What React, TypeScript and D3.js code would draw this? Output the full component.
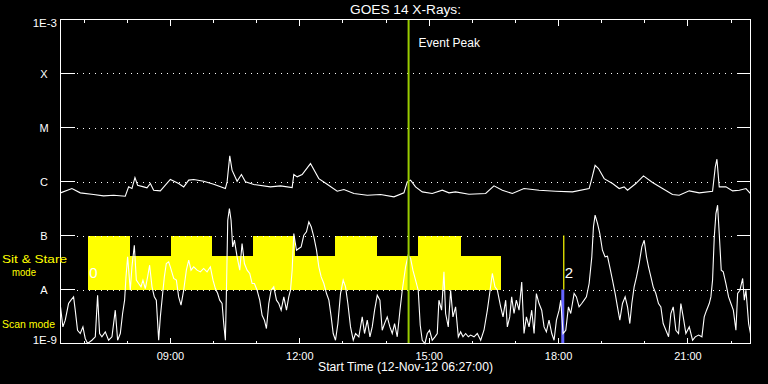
import React from "react";
import * as d3 from "d3";

// ---- data ----
const startTime = Date.UTC(2012, 10, 12, 6, 27, 0);
const durationMinutes = 960;

const longMinutes = [
  0, 15.9, 27.5, 46, 60, 74, 90.1, 94.8, 99.4, 103.6,
  107.3, 115.7, 120.3, 125, 129.6, 138.9, 152.8, 164.4, 171.4, 178.4,
  185.3, 199.2, 213.2, 229.4, 231.8, 235.5, 238.7, 245.7, 251.7, 257.3,
  268.9, 292.1, 306, 322.3, 324.6, 329.3, 336.2, 347.8, 359.4, 371,
  385, 394.3, 408.2, 426.8, 445.3, 463.9, 477.8,
  482.4, 487.1, 494, 503.3, 517.2, 531.2, 540.5, 549.7, 568.3, 591.5,
  603.1, 614.7, 628.7, 644.9, 665.8, 689, 712.3, 735.5, 739.2, 743.8,
  748.5, 756.4, 768, 777.3, 784.2, 788.9, 800.5, 811.1, 823.7, 837.6,
  851.5, 860.8, 874.8, 888.7, 907.2, 911, 913.3, 916.5, 925.8, 935.1,
  944.4, 953.7, 960,
];
const longFlux = [
  6.16e-7, 7.41e-7, 6.16e-7, 5.74e-7, 5.42e-7, 5.58e-7, 5.34e-7, 7.95e-7, 7.41e-7, 1.18e-6,
  8.54e-7, 7.95e-7, 7.62e-7, 9.17e-7, 6.9e-7, 6.71e-7, 1.09e-6, 9.17e-7, 7.95e-7, 1.06e-6,
  1.09e-6, 1.01e-6, 8.91e-7, 7.41e-7, 9.84e-7, 2.98e-6, 1.62e-6, 1.01e-6, 1.35e-6, 9.84e-7,
  8.79e-7, 7.95e-7, 8.3e-7, 7.73e-7, 1.35e-6, 1.22e-6, 1.35e-6, 2.15e-6, 1.13e-6, 8.91e-7,
  6.61e-7, 7.1e-7, 5.99e-7, 5.58e-7, 5.74e-7, 5.19e-7, 6.16e-7,
  9.84e-7, 1.06e-6, 7.95e-7, 6.43e-7, 5.99e-7, 6.9e-7, 6.16e-7, 6.43e-7, 5.82e-7, 5.99e-7,
  8.3e-7, 6.9e-7, 5.99e-7, 7.41e-7, 6.9e-7, 6.61e-7, 6.43e-7, 7.41e-7, 1.13e-6, 2.0e-6,
  1.74e-6, 1.13e-6, 9.17e-7, 7.41e-7, 7.95e-7, 6.9e-7, 9.17e-7, 1.27e-6, 9.57e-7, 7.41e-7,
  5.74e-7, 5.58e-7, 6.71e-7, 6.16e-7, 6.61e-7, 1.87e-6, 2.59e-6, 7.95e-7, 7.95e-7, 6.71e-7,
  6.9e-7, 7.41e-7, 5.99e-7,
];

const shortMinutes = [
  0, 3.3, 6.6, 11.2, 14.5, 18.2, 20.5, 23.7, 27.5, 31.2,
  34.4, 37.7, 43.7, 48.4, 51.6, 54.4, 57.6, 62.3, 66.9, 71.6,
  76.2, 79.5, 83.2, 86.4, 89.2, 91.1, 93.4, 97.1, 99.4, 102.7,
  105.5, 108.7, 112, 114.7, 118, 121.2, 124, 127.3, 130.5, 133.3,
  136.6, 138.9, 141.2, 144.5, 147.2, 150.5, 152.8, 157.5, 161.2, 164.4,
  167.7, 171.4, 175.1, 178.4, 181.6, 185.3, 190, 194.6, 199.2, 203.9,
  208.5, 212.2, 215.5, 218.7, 221.5, 224.8, 227.1, 229.4, 230.8, 232.7,
  235, 237.3, 239.6, 242, 245.7, 249.4, 252.6, 255.9, 259.6, 263.3,
  266.6, 269.8, 273.5, 277.2, 280.5, 283.7, 286.5, 289.8, 293, 296.7,
  300.5, 303.7, 307, 310.7, 314.4, 317.6, 320, 322.3, 324.6, 328.3,
  331.6, 334.8, 338.5, 342.2, 345.5, 348.8, 352.5, 356.2, 359.4, 362.7,
  366.4, 370.1, 373.4, 376.6, 379.4, 382.6, 385.9, 389.6, 393.3, 396.6,
  399.8, 403.5, 407.3, 410.5, 415.1, 419.8, 423, 426.8, 430.5, 433.7,
  437, 440.7, 444.4, 447.6, 450.9, 454.6, 458.3, 461.6, 464.8, 468.5,
  472.3, 475.5,
  480.1, 483.8, 487.1, 490.3, 494, 497.7, 500.5, 503.3, 507, 510.3,
  513.5, 517.2, 521, 524.2, 526.5, 530.2, 533.5, 535.8, 539.5, 542.8,
  546, 549.7, 553.5, 556.7, 560, 563.7, 567.4, 570.6, 575.3, 579.9,
  584.6, 589.2, 593.9, 597.1, 600.8, 604.5, 607.8, 612.4, 615.7, 619.4,
  621.7, 625, 627.7, 631, 634.2, 638, 641.7, 644.9, 648.2, 651.9,
  655.6, 658.9, 662.1, 665.8, 669.5, 672.8, 676, 679.7, 683.5, 686.7,
  690, 693.7, 696, 699.2, 703, 706.7, 709.9, 714.6, 717.8, 721.5,
  725.2, 728.5, 731.7, 735.5, 739.2, 741.5, 743.8, 747.1, 750.3, 754,
  757.7, 761, 764.2, 768, 771.7, 774.9, 778.2, 781.9, 785.6, 788.9,
  792.1, 794.9, 798.1, 801.4, 805.1, 808.8, 812.1, 815.3, 818.1, 821.4,
  824.6, 828.3, 832, 835.3, 838.5, 842.3, 846, 849.2, 852.5, 856.2,
  859.9, 863.1, 866.4, 870.1, 874.8, 879.4, 883.1, 887.8, 892.4, 895.6,
  898.9, 902.6, 904.9, 907.2, 909.6, 911.9, 914.2, 916.5, 919.3, 922.1,
  925.8, 929.5, 932.8, 936.1, 939.7, 942.1, 945.3, 949.1, 951.4, 953.7,
  957.4, 960,
];
const shortFlux = [
  4.77e-9, 2.03e-9, 2.7e-9, 5.5e-9, 6.34e-9, 7.3e-9, 4.14e-9, 1.76e-9, 1.53e-9, 2.03e-9,
  1.24e-9, 1.0e-9, 1.15e-9, 1.33e-9, 7.84e-9, 1.53e-9, 1.33e-9, 1.64e-9, 1.15e-9, 1.33e-9,
  4.14e-9, 1.15e-9, 1.53e-9, 3.59e-9, 6.34e-9, 1.71e-8, 4.02e-8, 9.7e-9, 2.63e-8, 6.61e-8,
  1.49e-8, 1.29e-8, 1.12e-8, 1.49e-8, 1.04e-8, 1.71e-8, 2.82e-8, 1.12e-8, 7.3e-9, 6.34e-9,
  1.15e-9, 3.11e-9, 6.34e-9, 1.71e-8, 3.03e-8, 3.25e-8, 2.63e-8, 1.6e-8, 1.49e-8, 7.3e-9,
  5.12e-9, 9.7e-9, 2.28e-8, 3.49e-8, 2.28e-8, 2.63e-8, 2.28e-8, 2.12e-8, 2.45e-8, 2.12e-8,
  2.63e-8, 1.49e-8, 1.04e-8, 8.42e-9, 6.34e-9, 5.5e-9, 2.34e-9, 1.15e-9, 8.42e-9, 1.92e-7,
  3.16e-7, 1.92e-7, 6.16e-8, 8.18e-8, 4.02e-8, 2.28e-8, 7.1e-8, 3.03e-8, 2.28e-8, 1.98e-8,
  1.29e-8, 1.29e-8, 9.7e-9, 6.34e-9, 3.34e-9, 2.7e-9, 1.89e-9, 5.5e-9, 9.7e-9, 1.12e-8,
  6.34e-9, 5.5e-9, 4.14e-9, 7.3e-9, 4.14e-9, 7.3e-9, 9.7e-9, 2.28e-8, 1.09e-7, 5.34e-8,
  5.74e-8, 6.16e-8, 1.01e-7, 1.17e-7, 1.79e-7, 1.45e-7, 9.43e-8, 5.34e-8, 2.63e-8, 1.71e-8,
  1.29e-8, 8.42e-9, 6.34e-9, 3.11e-9, 1.53e-9, 1.15e-9, 2.34e-9, 8.42e-9, 1.49e-8, 1.12e-8,
  5.5e-9, 2.03e-9, 1.15e-9, 1.53e-9, 1.33e-9, 3.11e-9, 1.53e-9, 2.7e-9, 1.33e-9, 2.03e-9,
  4.14e-9, 7.84e-9, 6.34e-9, 1.76e-9, 2.34e-9, 3.11e-9, 2.03e-9, 1.53e-9, 2.34e-9, 1.33e-9,
  4.14e-9, 9.7e-9,
  2.63e-8, 4.32e-8, 3.75e-8, 2.28e-8, 1.49e-8, 9.7e-9, 2.18e-9, 1.15e-9, 1.0e-9, 1.53e-9,
  1.76e-9, 1.15e-9, 1.33e-9, 1.53e-9, 6.34e-9, 4.14e-9, 2.12e-8, 3.59e-9, 2.03e-9, 9.7e-9,
  3.11e-9, 4.77e-9, 1.33e-9, 1.64e-9, 1.33e-9, 1.53e-9, 1.33e-9, 1.43e-9, 1.33e-9, 1.53e-9,
  1.15e-9, 1.76e-9, 4.14e-9, 8.42e-9, 1.98e-8, 1.12e-8, 9.7e-9, 4.77e-9, 3.11e-9, 6.34e-9,
  2.03e-9, 3.11e-9, 7.3e-9, 3.59e-9, 6.34e-9, 4.14e-9, 1.38e-8, 1.53e-9, 3.11e-9, 2.03e-9,
  4.14e-9, 1.53e-9, 8.42e-9, 5.5e-9, 4.14e-9, 2.03e-9, 1.64e-9, 2.7e-9, 1.53e-9, 1.15e-9,
  2.7e-9, 4.14e-9, 6.34e-9, 1.53e-9, 1.76e-9, 4.77e-9, 3.59e-9, 8.42e-9, 7.3e-9, 4.77e-9,
  5.5e-9, 6.34e-9, 7.3e-9, 1.29e-8, 4.02e-8, 1.45e-7, 2.38e-7, 1.67e-7, 1.09e-7, 5.34e-8,
  4.02e-8, 4.14e-8, 2.63e-8, 1.49e-8, 8.42e-9, 4.77e-9, 2.7e-9, 5.5e-9, 7.3e-9, 4.77e-9,
  2.34e-9, 5.5e-9, 1.12e-8, 1.71e-8, 3.03e-8, 6.16e-8, 8.18e-8, 4.02e-8, 2.63e-8, 1.71e-8,
  1.12e-8, 8.42e-9, 5.5e-9, 4.77e-9, 2.34e-9, 1.76e-9, 1.33e-9, 3.59e-9, 4.77e-9, 1.76e-9,
  1.53e-9, 5.5e-9, 3.11e-9, 1.53e-9, 2.03e-9, 1.15e-9, 1.33e-9, 1.43e-9, 1.33e-9, 3.11e-9,
  4.14e-9, 5.5e-9, 7.3e-9, 1.49e-8, 9.43e-8, 2.55e-7, 3.64e-7, 1.09e-7, 2.28e-8, 2.12e-8,
  1.29e-8, 7.3e-9, 5.5e-9, 4.14e-9, 1.76e-9, 8.42e-9, 9.7e-9, 1.6e-8, 6.34e-9, 9.7e-9,
  2.34e-9, 1.53e-9,
];

const levelValues = [1e-9, 1e-8, 1e-7, 1e-6, 1e-5, 1e-4, 1e-3];
const levelLabels = ["1E-9", "A", "B", "C", "M", "X", "1E-3"];

const sitStareEdges = [38.6, 96.4, 154.2, 211.3, 268, 325.9, 382.6, 440.7, 497.8, 556.7, 613.4];
const sitStareTops = [1e-7, 4.1e-8, 1e-7, 4.1e-8, 1e-7, 4.1e-8, 1e-7, 4.1e-8, 1e-7, 4.1e-8];
const sitStareFloor = 1e-8;

const eventPeakMinute = 484.3;
const markerLabels = ["0", "2"];
const markerMinutes = [38.6, 700.2];
const titleText = "GOES 14 X-Rays:";

// ---- layout ----
const W = 768, H = 384;
const left = 60.5, right = 750.5, top = 19.5, bottom = 343.5;
const FONT = "'Liberation Sans', Arial, sans-serif";
const YELLOW = "#ffff00";

export default function App() {
  const toDate = (m: number) => new Date(startTime + m * 60000);
  const x = d3.scaleUtc().domain([toDate(0), toDate(durationMinutes)]).range([left, right]);
  const y = d3.scaleLog().domain([1e-9, 1e-3]).range([bottom, top]).clamp(true);

  const longLine = d3.line<number>().x((_, i) => x(toDate(longMinutes[i]))).y((d) => y(d));
  const shortLine = d3.line<number>().x((_, i) => x(toDate(shortMinutes[i]))).y((d) => y(d));

  const hourTicks = x.ticks(d3.utcHour.every(1) as any);
  const fmt = d3.utcFormat("%H:%M");
  const startFmt = d3.utcFormat("%d-%b-%y %H:%M:%S");

  const blocks = sitStareTops.map((t, i) => ({
    x0: x(toDate(sitStareEdges[i])),
    x1: x(toDate(sitStareEdges[i + 1])),
    yTop: y(t),
  }));

  const evX = x(toDate(eventPeakMinute));
  const scanX = x(toDate(markerMinutes[1]));

  return (
    <svg width={W} height={H} style={{ position: "absolute", left: 0, top: 0, background: "#000" }}>
      <rect x={0} y={0} width={W} height={H} fill="#000" />
      {blocks.map((b, i) => (
        <rect key={i} x={b.x0} y={b.yTop} width={b.x1 - b.x0} height={y(sitStareFloor) - b.yTop} fill={YELLOW} shapeRendering="crispEdges" />
      ))}
      {levelValues.slice(1, -1).map((v, i) => (
        <line key={i} x1={77} x2={735} y1={Math.round(y(v)) + 0.5} y2={Math.round(y(v)) + 0.5} stroke="#fff" strokeWidth={1} strokeDasharray="1 5" shapeRendering="crispEdges" />
      ))}
      {levelValues.map((v, i) => {
        const yy = Math.round(y(v) - 0.5) + 0.5;
        return (
          <g key={i}>
            <line x1={left} x2={left + 14} y1={yy} y2={yy} stroke="#fff" shapeRendering="crispEdges" />
            <line x1={right - 14} x2={right} y1={yy} y2={yy} stroke="#fff" shapeRendering="crispEdges" />
          </g>
        );
      })}
      {hourTicks.map((t, i) => {
        const major = t.getUTCHours() % 3 === 0;
        const len = major ? 6 : 3;
        const xx = Math.round(x(t) - 0.5) + 0.5;
        return (
          <g key={i}>
            <line x1={xx} x2={xx} y1={top} y2={top + len} stroke="#fff" shapeRendering="crispEdges" />
            <line x1={xx} x2={xx} y1={bottom} y2={bottom - len} stroke="#fff" shapeRendering="crispEdges" />
            {major && (
              <text x={x(t)} y={359.5} fill="#fff" fontSize={11} fontFamily={FONT} textAnchor="middle">{fmt(t)}</text>
            )}
          </g>
        );
      })}
      <rect x={scanX - 2.5} y={y(1e-8)} width={3} height={y(1e-9) - y(1e-8)} fill="#6464ff" />
      <line x1={scanX} x2={scanX} y1={y(1e-7)} y2={y(1e-8)} stroke={YELLOW} strokeWidth={1.2} />
      <path d={shortLine(shortFlux) || ""} fill="none" stroke="#fff" strokeWidth={1.1} />
      <path d={longLine(longFlux) || ""} fill="none" stroke="#fff" strokeWidth={1.1} />
      <line x1={evX} x2={evX} y1={top} y2={bottom} stroke="#99cc00" strokeWidth={2} />
      <text x={evX + 10} y={47} fill="#fff" fontSize={12} fontFamily={FONT}>Event Peak</text>
      {markerLabels.map((l, i) => (
        <text key={i} x={x(toDate(markerMinutes[i])) + 1} y={277.5} fill="#fff" fontSize={15} fontFamily={FONT}>{l}</text>
      ))}
      <rect x={left} y={top} width={right - left} height={bottom - top} fill="none" stroke="#fff" strokeWidth={1} shapeRendering="crispEdges" />
      {levelValues.map((v, i) => {
        const isEnd = i === 0 || i === levelValues.length - 1;
        const yy = i === levelValues.length - 1 ? y(v) + 7.5 : i === 0 ? y(v) : y(v) + 4;
        return (
          <text key={i} x={isEnd ? 57 : 44} y={yy} fill="#fff" fontSize={isEnd ? 11.5 : 11} fontFamily={FONT} textAnchor={isEnd ? "end" : "middle"}>{levelLabels[i]}</text>
        );
      })}
      <text x={(left + right) / 2} y={14} fill="#fff" fontSize={12.5} fontFamily={FONT} textAnchor="middle" textLength={111} lengthAdjust="spacingAndGlyphs">{titleText}</text>
      <text x={(left + right) / 2} y={371} fill="#fff" fontSize={12} fontFamily={FONT} textAnchor="middle" textLength={175} lengthAdjust="spacingAndGlyphs">{`Start Time (${startFmt(toDate(0))})`}</text>
      <text x={2} y={262.5} fill={YELLOW} fontSize={11} fontFamily={FONT} textLength={65} lengthAdjust="spacingAndGlyphs">Sit &amp; Stare</text>
      <text x={12} y={275.5} fill={YELLOW} fontSize={11} fontFamily={FONT} textLength={24} lengthAdjust="spacingAndGlyphs">mode</text>
      <text x={2} y={328.3} fill={YELLOW} fontSize={11.5} fontFamily={FONT} textLength={53} lengthAdjust="spacingAndGlyphs">Scan mode</text>
    </svg>
  );
}
